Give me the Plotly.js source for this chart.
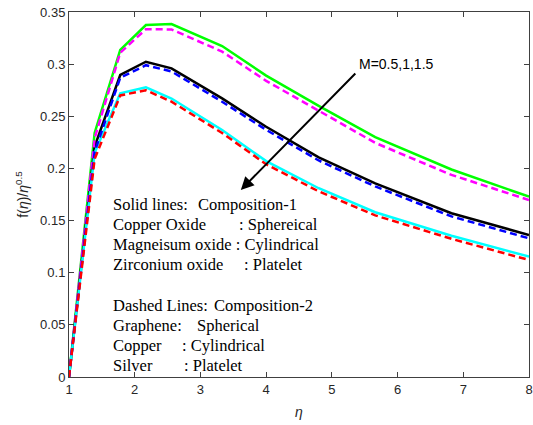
<!DOCTYPE html>
<html>
<head>
<meta charset="utf-8">
<script src="https://cdn.plot.ly/plotly-3.0.1.min.js"></script>
<style>
  html, body { margin: 0; padding: 0; background: #fff; }
  #chart { width: 533px; height: 425px; }
</style>
</head>
<body>
<div id="chart"></div>
<script>
// similarity variable
const eta = [1, 1.39, 1.78, 2.17, 2.56, 3.33, 4, 4.8, 5.66, 6.82, 8];

// Composition-1 (solid lines), M = 0.5, 1, 1.5
const comp1_M05 = [0, 0.234, 0.3136, 0.3375, 0.3385, 0.3174, 0.289, 0.260, 0.230, 0.199, 0.1729];
const comp1_M10 = [0, 0.221, 0.2896, 0.3023, 0.296, 0.2672, 0.240, 0.2106, 0.1857, 0.157, 0.1362];
const comp1_M15 = [0, 0.215, 0.272, 0.2778, 0.267, 0.2368, 0.207, 0.181, 0.158, 0.1355, 0.1154];

// Composition-2 (dashed lines), M = 0.5, 1, 1.5
const comp2_M05 = [0, 0.229, 0.311, 0.3335, 0.3333, 0.312, 0.284, 0.255, 0.2245, 0.1938, 0.1697];
const comp2_M10 = [0, 0.216, 0.287, 0.299, 0.293, 0.264, 0.237, 0.2076, 0.1827, 0.154, 0.133];
const comp2_M15 = [0, 0.209, 0.270, 0.275, 0.264, 0.234, 0.204, 0.178, 0.155, 0.1325, 0.1122];

const xTicks = [1, 2, 3, 4, 5, 6, 7, 8];
const yTicks = [0, 0.05, 0.1, 0.15, 0.2, 0.25, 0.3, 0.35];
const yTickText = ['0', '0.05', '0.1', '0.15', '0.2', '0.25', '0.3', '0.35'];

// text block: [left part, right part or null, x of right part, line centre y]
const noteLines = [
  ['Solid lines:', 'Composition-1', 196.5, 204],
  ['Copper Oxide', ': Sphereical', 237.5, 224],
  ['Magneisum oxide : Cylindrical', null, 0, 244],
  ['Zirconium oxide', ': Platelet', 242.5, 264],
  ['Dashed Lines:', 'Composition-2', 212.5, 305],
  ['Graphene:', 'Spherical', 195, 325],
  ['Copper', ': Cylindrical', 180, 345],
  ['Silver', ': Platelet', 182.5, 365]
];

// plot area geometry in pixels
const L = 69, R = 529.5, T = 12, B = 377;
const px = x => (x - L) / (R - L);
const py = y => (B - y) / (B - T);

const dash = '7px,4px';
function line(y, color, dashed) {
  return {
    x: eta, y: y, type: 'scatter', mode: 'lines',
    line: { color: color, width: 2.5, dash: dashed ? dash : 'solid' },
    hoverinfo: 'skip', showlegend: false
  };
}

const data = [
  line(comp1_M05, '#00ff00', false),
  line(comp1_M10, '#000000', false),
  line(comp1_M15, '#00ffff', false),
  line(comp2_M05, '#ff00ff', true),
  line(comp2_M10, '#0000ff', true),
  line(comp2_M15, '#ff0000', true)
];

const serif = { family: 'Liberation Serif, Times New Roman, serif', size: 16.5, color: '#000' };
const annotations = [];
noteLines.forEach(([left, right, rx, cy]) => {
  annotations.push({
    xref: 'paper', yref: 'paper', x: px(111), y: py(cy),
    xanchor: 'left', yanchor: 'middle', text: left, showarrow: false, font: serif
  });
  if (right) {
    annotations.push({
      xref: 'paper', yref: 'paper', x: px(rx), y: py(cy),
      xanchor: 'left', yanchor: 'middle', text: right, showarrow: false, font: serif
    });
  }
});

// increasing-M arrow and its label
annotations.push({
  xref: 'paper', yref: 'paper', x: px(241), y: py(190),
  ax: 116, ay: -118, text: '', showarrow: true,
  arrowhead: 2, arrowsize: 1.3, arrowwidth: 2, arrowcolor: '#000'
});
annotations.push({
  xref: 'paper', yref: 'paper', x: px(357), y: py(64),
  xanchor: 'left', yanchor: 'middle', text: 'M=0.5,1,1.5', showarrow: false,
  font: { family: 'Liberation Sans, Arial, sans-serif', size: 14, color: '#000' }
});

const axisCommon = {
  showgrid: false, zeroline: false,
  showline: true, linecolor: '#404040', linewidth: 1, mirror: 'ticks',
  ticks: 'inside', ticklen: 5, tickwidth: 1, tickcolor: '#404040',
  ticklabeloverflow: 'allow',
  tickfont: { family: 'Liberation Sans, Arial, sans-serif', size: 13, color: '#262626' }
};

const layout = {
  width: 533, height: 425,
  margin: { l: L, r: 533 - R, t: T, b: 425 - B },
  paper_bgcolor: '#fff', plot_bgcolor: '#fff',
  showlegend: false,
  xaxis: Object.assign({}, axisCommon, {
    range: [1, 8], tickvals: xTicks,
    title: { text: '<i>η</i>', standoff: 11,
      font: { family: 'Liberation Sans, Arial, sans-serif', size: 14, color: '#262626' } }
  }),
  yaxis: Object.assign({}, axisCommon, {
    range: [0, 0.35], tickvals: yTicks, ticktext: yTickText,
    title: { text: 'f(<i>η</i>)/<i>η</i><sup>0.5</sup>', standoff: 8,
      font: { family: 'Liberation Sans, Arial, sans-serif', size: 14, color: '#262626' } }
  }),
  annotations: annotations
};

Plotly.newPlot('chart', data, layout, { staticPlot: true, displayModeBar: false });
</script>
</body>
</html>
